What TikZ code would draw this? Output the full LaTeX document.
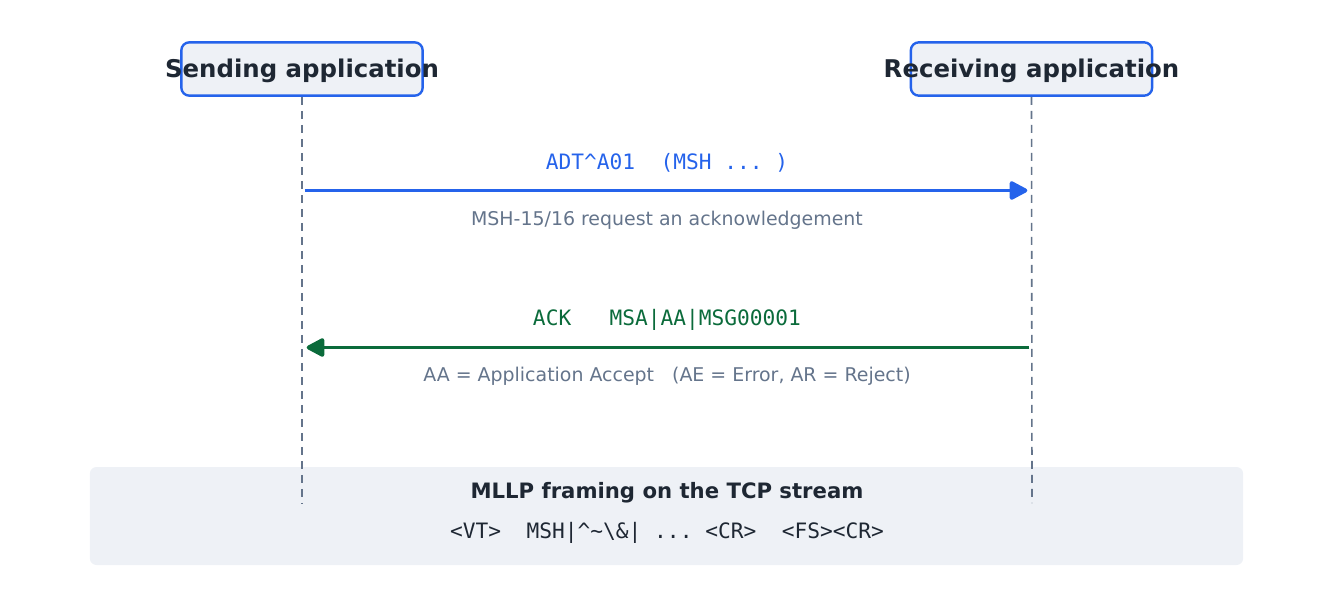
\documentclass[tikz,border=0pt]{standalone}
\usepackage{fontspec}
\setmainfont{DejaVu Sans}
\setmonofont{DejaVu Sans Mono}
\usetikzlibrary{arrows.meta,calc}
\definecolor{MBlue}{HTML}{2563EB}
\definecolor{MGreen}{HTML}{0B6B3B}
\definecolor{MGray}{HTML}{64748B}
\definecolor{MDark}{HTML}{1E2733}
\definecolor{MFill}{HTML}{EEF1F6}

\begin{document}
\begin{tikzpicture}[x=0.75pt,y=-0.75pt,
        actor/.style={draw=MBlue,line width=1.8pt,fill=MFill,rounded corners=6pt,minimum width=181pt,minimum height=40pt,inner sep=0pt},
        actortext/.style={text=MDark,font=\bfseries\fontsize{18.3}{21}\selectfont},
        lifeline/.style={draw=MGray,line width=1.2pt,dash pattern=on 6pt off 4.5pt},
        msg/.style={line width=2.9pt,-{Triangle[length=15pt,width=15pt,round]},shorten <=2pt,shorten >=3.5pt},
        msgtext/.style={font=\ttfamily\fontsize{15.9}{18}\selectfont},
        note/.style={text=MGray,font=\fontsize{14.2}{17}\selectfont}]
        \useasboundingbox (0,0) rectangle (1334,598);
        % framing box at the bottom
        \node[fill=MFill,rounded corners=5pt,minimum width=865pt,minimum height=73.5pt,inner sep=0pt] (frame) at (666.5,516) {};
        \node[text=MDark,font=\bfseries\fontsize{15.9}{19}\selectfont] (frametitle) at (667,492.5) {MLLP framing on the TCP stream};
        \node[msgtext,text=MDark] (framebytes) at (667,532.5) {<VT>\ \ MSH|\textasciicircum\textasciitilde\textbackslash\&| ... <CR>\ \ <FS><CR>};
        % actors
        \node[actor] (send) at (302,69) {};
        \node[actortext] at ($(send)+(0,1.5)$) {Sending application};
        \node[actor] (recv) at (1031.5,69) {};
        \node[actortext] at ($(recv)+(0,1.5)$) {Receiving application};
        \coordinate (sendend) at (302,503);
        \coordinate (recvend) at (1032,503);
        \draw[lifeline] (send.south) -- (sendend);
        \draw[lifeline] (recv.south) -- (recvend);
        % messages
        \coordinate (sendmsg) at (302,190.5);
        \coordinate (recvmsg) at (1032,190.5);
        \coordinate (sendack) at (302,347.5);
        \coordinate (recvack) at (1032,347.5);
        \draw[msg,MBlue] (sendmsg) -- (recvmsg);
        \node[msgtext,text=MBlue] at (667,162.5) {ADT\textasciicircum A01\ \ (MSH ... )};
        \node[note] at (667,220) {MSH-15/16 request an acknowledgement};
        \draw[msg,MGreen] (recvack) -- (sendack);
        \node[msgtext,text=MGreen] at (667,319.5) {ACK\ \ \ MSA|AA|MSG00001};
        \node[note] at (667,376) {AA = Application Accept\ \ \ (AE = Error, AR = Reject)};
\end{tikzpicture}
\end{document}
